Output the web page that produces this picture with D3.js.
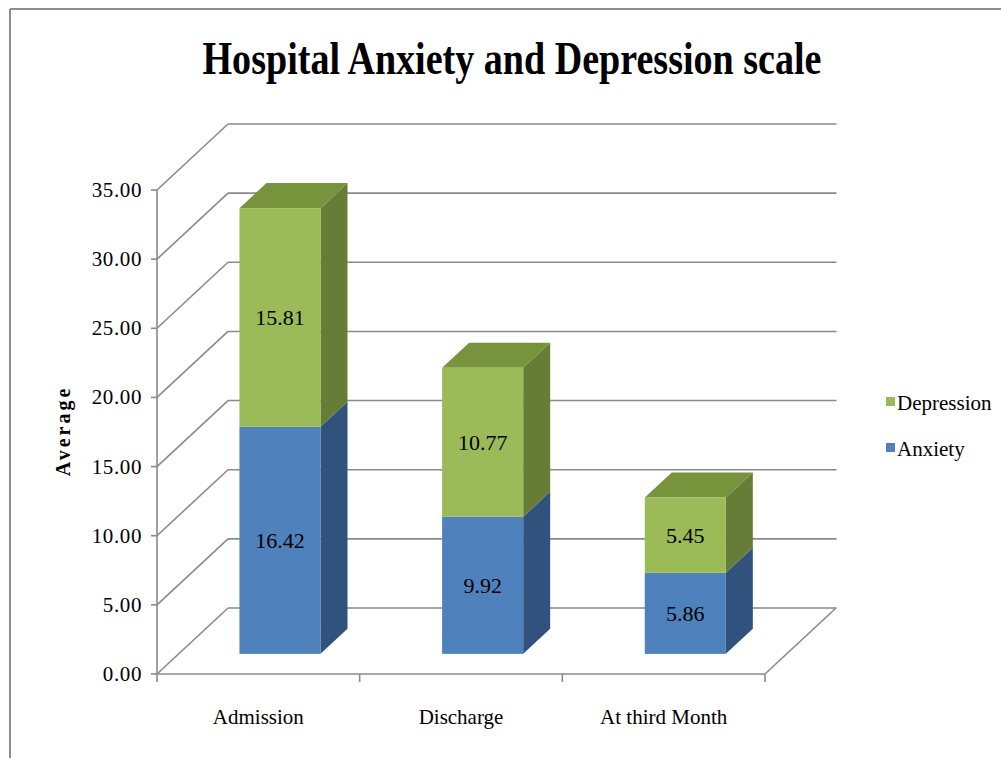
<!DOCTYPE html>
<html>
<head>
<meta charset="utf-8">
<script src="https://cdn.jsdelivr.net/npm/d3@7"></script>
<style>
  html, body { margin: 0; padding: 0; background: #fff; }
  svg { display: block; }
</style>
</head>
<body>
<svg id="chart" width="1001" height="758"></svg>
<script>
// Chart data
const categories = ["Admission", "Discharge", "At third Month"];
const seriesNames = ["Anxiety", "Depression"];
const anxiety = [16.42, 9.92, 5.86];
const depression = [15.81, 10.77, 5.45];
const yTicks = [0, 5, 10, 15, 20, 25, 30, 35];
const chartTitle = "Hospital Anxiety and Depression scale";
const yAxisTitle = "Average";

const FONT = "'Times New Roman', Times, 'Liberation Serif', 'DejaVu Serif', serif";

const svg = d3.select("#chart")
  .attr("font-family", FONT)
  .style("font-family", FONT);
const W = 1001, H = 758;

// Outer chart frame (left and top edges)
svg.append("line").attr("x1", 10).attr("y1", 9).attr("x2", W).attr("y2", 9)
  .attr("stroke", "#8d8d8d").attr("stroke-width", 2);
svg.append("line").attr("x1", 10).attr("y1", 9).attr("x2", 10).attr("y2", H)
  .attr("stroke", "#8d8d8d").attr("stroke-width", 2);

// Front plane of the 3D plot box
const x0 = 157, x1 = 765;
const x = d3.scaleBand().domain(categories).range([x0, x1]).paddingInner(0).paddingOuter(0);
const y = d3.scaleLinear().domain([0, 35]).range([674, 190]);

// Oblique depth projection: full depth offset
const DX = 71, DY = -66;
const depth = d => [DX * d, DY * d];

const gridColor = "#8a8a8a";
const gw = 1.6;
const grid = svg.append("g");

// Back wall horizontal gridlines, side wall diagonals, value ticks
const [bx, by] = depth(1);
yTicks.forEach(t => {
  grid.append("line")
    .attr("x1", x0 + bx).attr("x2", x1 + bx + 0.5)
    .attr("y1", y(t) + by).attr("y2", y(t) + by)
    .attr("stroke", gridColor).attr("stroke-width", gw);
  grid.append("line")
    .attr("x1", x0).attr("y1", y(t))
    .attr("x2", x0 + bx).attr("y2", y(t) + by)
    .attr("stroke", gridColor).attr("stroke-width", gw);
  grid.append("line")
    .attr("x1", x0 - 6).attr("x2", x0)
    .attr("y1", y(t)).attr("y2", y(t))
    .attr("stroke", gridColor).attr("stroke-width", gw);
});

// Value axis line
grid.append("line").attr("x1", x0).attr("x2", x0)
  .attr("y1", y(35)).attr("y2", y(0))
  .attr("stroke", gridColor).attr("stroke-width", gw);

// Floor: front and right edges
grid.append("line").attr("x1", x0).attr("x2", x1)
  .attr("y1", y(0)).attr("y2", y(0))
  .attr("stroke", gridColor).attr("stroke-width", gw);
grid.append("line").attr("x1", x1).attr("y1", y(0))
  .attr("x2", x1 + bx).attr("y2", y(0) + by)
  .attr("stroke", gridColor).attr("stroke-width", gw);

// Category axis ticks
const catTicks = categories.map(c => x(c)).concat([x1]);
catTicks.forEach(px => {
  grid.append("line").attr("x1", px).attr("x2", px)
    .attr("y1", y(0)).attr("y2", y(0) + 8)
    .attr("stroke", gridColor).attr("stroke-width", gw);
});

// Value axis labels
svg.append("g").selectAll("text").data(yTicks).join("text")
  .attr("x", x0 - 15)
  .attr("y", d => y(d) + 7)
  .attr("text-anchor", "end")
  .attr("font-size", 21)
  .attr("letter-spacing", 0.6)
  .text(d => d.toFixed(2));

// Category labels
svg.append("g").selectAll("text").data(categories).join("text")
  .attr("x", d => x(d) + x.bandwidth() / 2)
  .attr("y", 724)
  .attr("text-anchor", "middle")
  .attr("font-size", 21)
  .text(d => d);

// Stacked 3D columns
const series = d3.stack().keys(seriesNames)(
  categories.map((c, i) => ({ cat: c, Anxiety: anxiety[i], Depression: depression[i] }))
);
const colors = {
  Anxiety: { front: "#4f81bd", side: "#31527c", top: "#3c6396" },
  Depression: { front: "#9bbb59", side: "#667d37", top: "#77933c" }
};
const barFrac = 0.4;
const [fdx, fdy] = depth(0.305);
const [ddx, ddy] = depth(0.38);
const bars = svg.append("g");

series.forEach((s, si) => {
  const key = s.key;
  const isTop = si === series.length - 1;
  s.forEach((d, i) => {
    const cat = categories[i];
    const bw = x.bandwidth() * barFrac;
    const left = x(cat) + (x.bandwidth() - bw) / 2 + fdx;
    const right = left + bw;
    const yb = y(d[0]) + fdy;
    const yt = y(d[1]) + fdy;
    const g = bars.append("g");
    // Side face
    g.append("path")
      .attr("d", `M${right},${yb}L${right},${yt}L${right + ddx},${yt + ddy}L${right + ddx},${yb + ddy}Z`)
      .attr("fill", colors[key].side);
    // Top face
    if (isTop) {
      g.append("path")
        .attr("d", `M${left},${yt}L${right},${yt}L${right + ddx},${yt + ddy}L${left + ddx},${yt + ddy}Z`)
        .attr("fill", colors[key].top);
    }
    // Front face
    g.append("rect")
      .attr("x", left).attr("y", yt)
      .attr("width", bw).attr("height", yb - yt)
      .attr("fill", colors[key].front);
    // Value label
    g.append("text")
      .attr("x", (left + right) / 2)
      .attr("y", (yt + yb) / 2 + 8)
      .attr("text-anchor", "middle")
      .attr("font-size", 22)
      .text((d[1] - d[0]).toFixed(2));
  });
});

// Title
svg.append("text")
  .attr("x", 512).attr("y", 74)
  .attr("text-anchor", "middle")
  .attr("font-size", 46)
  .attr("font-weight", "bold")
  .attr("textLength", 619)
  .attr("lengthAdjust", "spacingAndGlyphs")
  .text(chartTitle);

// Value axis title
svg.append("text")
  .attr("transform", "translate(70,431) rotate(-90)")
  .attr("text-anchor", "middle")
  .attr("font-size", 20)
  .attr("font-weight", "bold")
  .attr("letter-spacing", 3)
  .text(yAxisTitle);

// Legend (Depression listed above Anxiety)
const legendItems = ["Depression", "Anxiety"];
const legend = svg.append("g");
legendItems.forEach((name, i) => {
  const ly = 410 + i * 46;
  legend.append("rect")
    .attr("x", 886).attr("y", ly - 13)
    .attr("width", 9).attr("height", 9)
    .attr("fill", colors[name].front);
  legend.append("text")
    .attr("x", 897).attr("y", ly)
    .attr("font-size", 21)
    .text(name);
});
</script>
</body>
</html>
